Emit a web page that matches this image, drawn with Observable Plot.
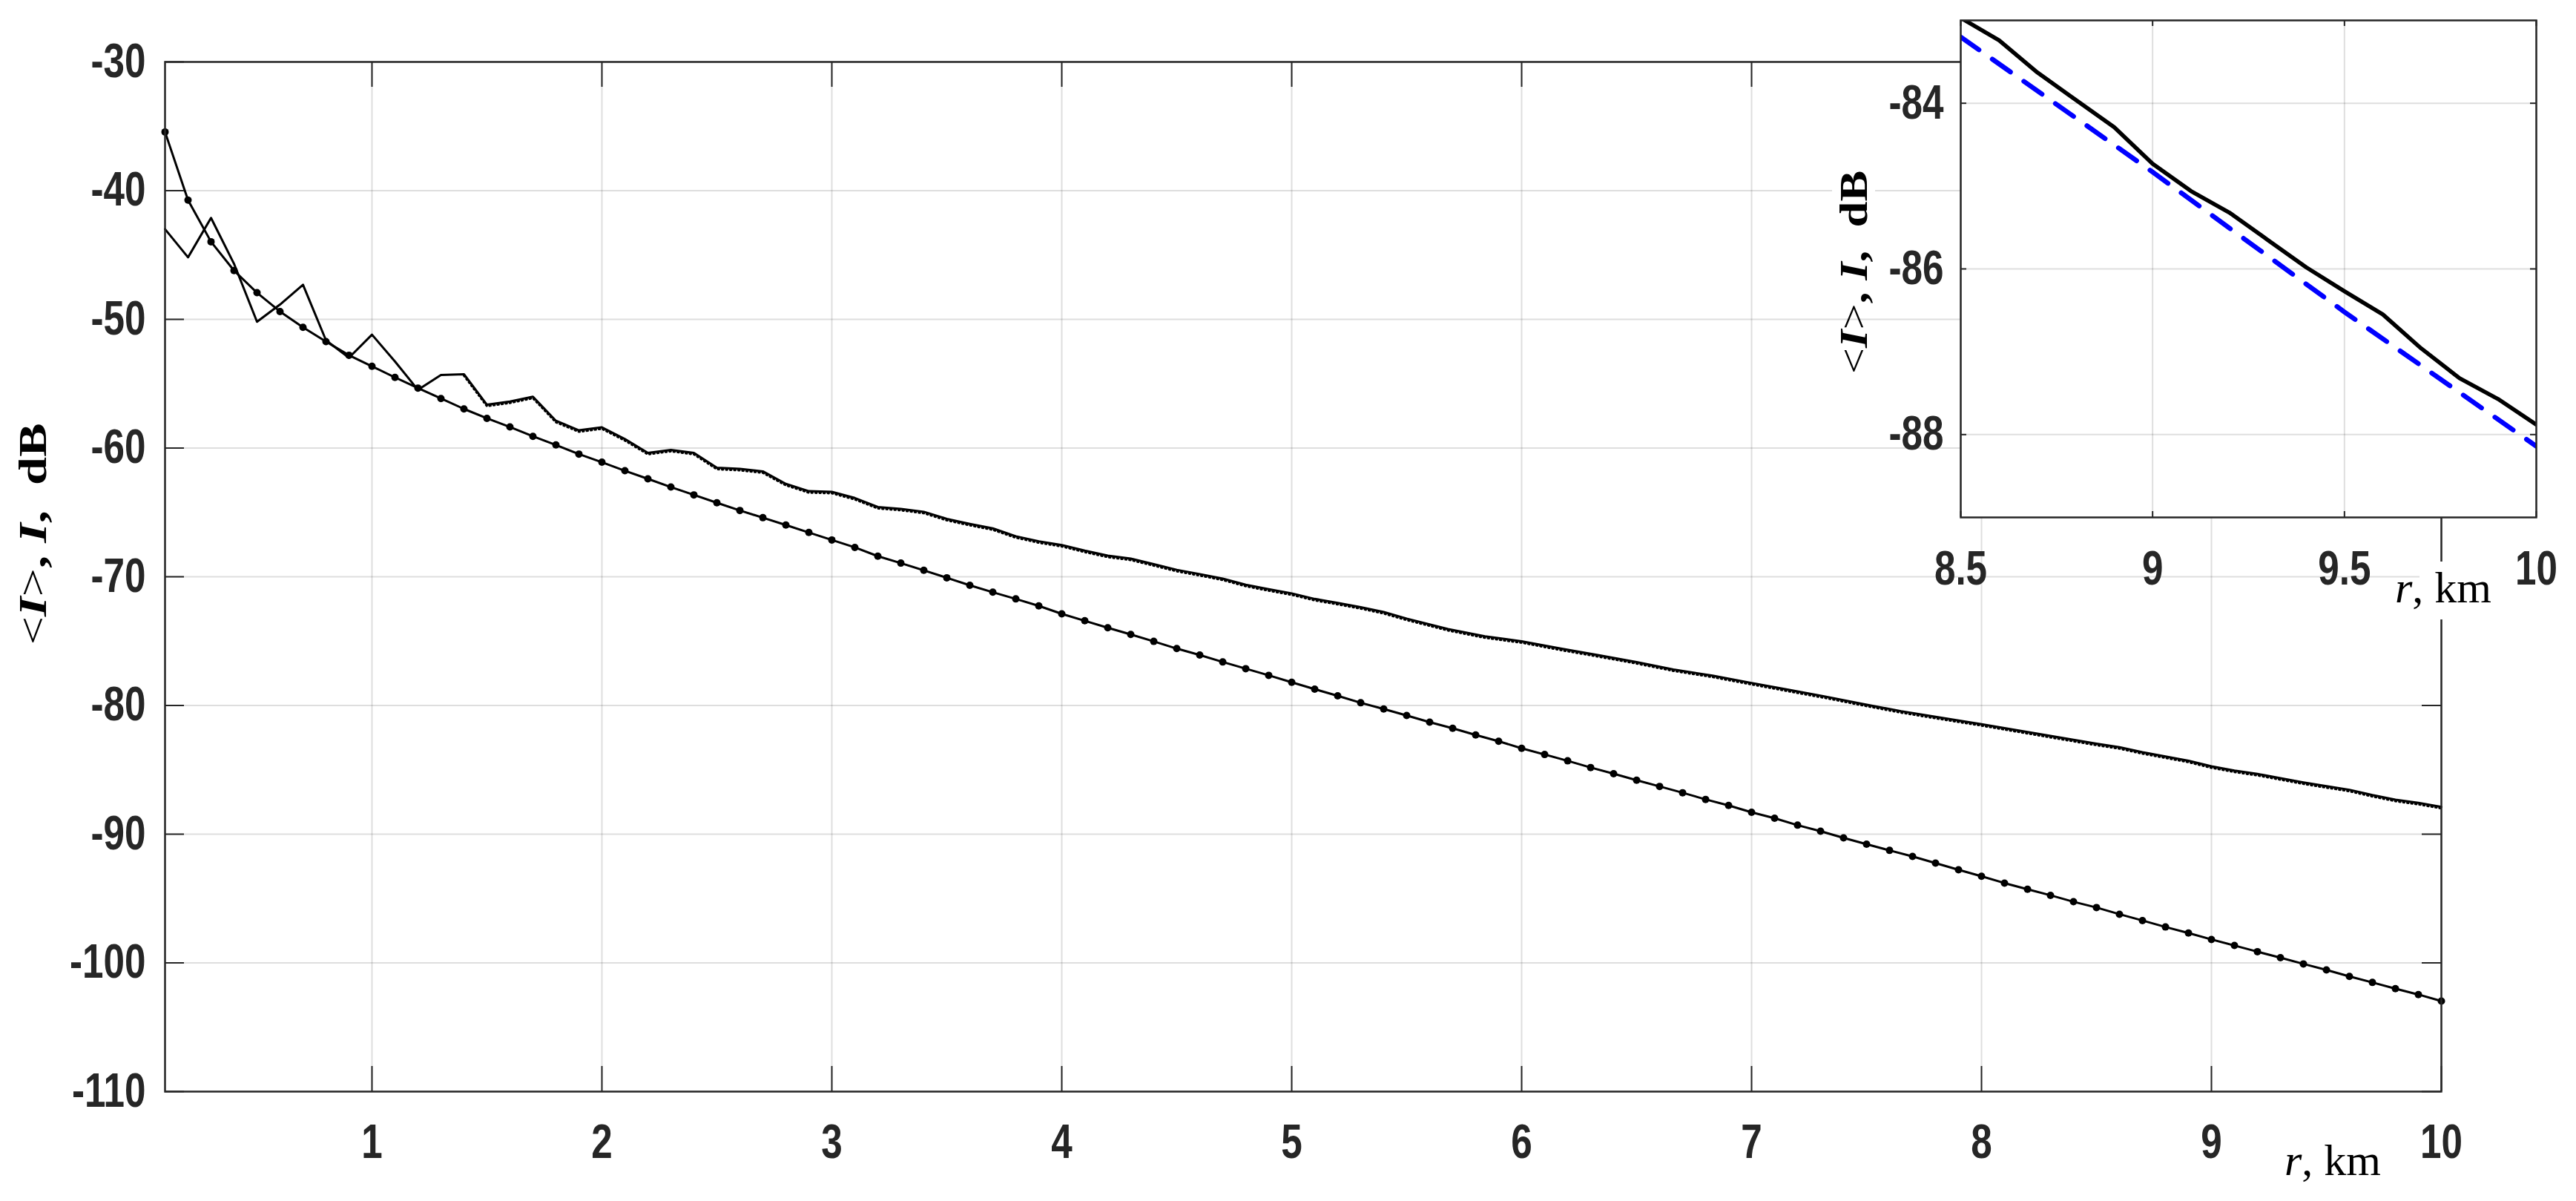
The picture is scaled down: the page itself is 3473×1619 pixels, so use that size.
<!DOCTYPE html>
<html><head><meta charset="utf-8">
<script src="https://cdn.jsdelivr.net/npm/d3@7"></script>
<script src="https://cdn.jsdelivr.net/npm/@observablehq/plot@0.6"></script>
<style>
html,body{margin:0;padding:0;background:#fff;}
#wrap{position:relative;width:3473px;height:1619px;overflow:hidden;background:#fff;}
#wrap svg{position:absolute;max-width:none;}
</style></head><body><div id="wrap"></div>
<script>
// ---- data ----
const lowerR = [0.1,0.2,0.3,0.4,0.5,0.6,0.7,0.8,0.9,1.0,1.1,1.2,1.3,1.4,1.5,1.6,1.7,1.8,1.9,2.0,
  2.1,2.2,2.3,2.4,2.5,2.6,2.7,2.8,2.9,3.0,3.1,3.2,3.3,3.4,3.5,3.6,3.7,3.8,3.9,4.0,
  4.1,4.2,4.3,4.4,4.5,4.6,4.7,4.8,4.9,5.0,5.1,5.2,5.3,5.4,5.5,5.6,5.7,5.8,5.9,6.0,
  6.1,6.2,6.3,6.4,6.5,6.6,6.7,6.8,6.9,7.0,7.1,7.2,7.3,7.4,7.5,7.6,7.7,7.8,7.9,8.0,
  8.1,8.2,8.3,8.4,8.5,8.6,8.7,8.8,8.9,9.0,9.1,9.2,9.3,9.4,9.5,9.6,9.7,9.8,9.9,10.0];
const lowerI = [-35.44,-40.74,-43.97,-46.21,-47.93,-49.39,-50.62,-51.73,-52.79,-53.65,
  -54.51,-55.34,-56.15,-56.96,-57.69,-58.36,-59.09,-59.76,-60.47,-61.10,
  -61.76,-62.39,-63.03,-63.64,-64.25,-64.85,-65.41,-65.98,-66.56,-67.14,
  -67.72,-68.40,-68.94,-69.50,-70.08,-70.66,-71.20,-71.72,-72.26,-72.88,
  -73.42,-73.96,-74.48,-75.02,-75.58,-76.08,-76.62,-77.14,-77.66,-78.20,
  -78.73,-79.25,-79.79,-80.27,-80.78,-81.30,-81.77,-82.29,-82.78,-83.33,
  -83.81,-84.30,-84.82,-85.30,-85.81,-86.29,-86.78,-87.30,-87.77,-88.30,
  -88.76,-89.30,-89.77,-90.29,-90.78,-91.26,-91.73,-92.25,-92.77,-93.27,
  -93.80,-94.28,-94.75,-95.25,-95.70,-96.22,-96.71,-97.21,-97.68,-98.18,
  -98.65,-99.13,-99.60,-100.08,-100.55,-101.05,-101.52,-102.00,-102.46,-102.97];
const upperR = [0.1,0.2,0.3,0.4,0.5,0.6,0.7,0.8,0.9,1.0,1.1,1.2,1.3,1.4,1.5,1.6,1.7,1.8,1.9,2.0,
  2.1,2.2,2.3,2.4,2.5,2.6,2.7,2.8,2.9,3.0,3.1,3.2,3.3,3.4,3.5,3.6,3.7,3.8,3.9,4.0,
  4.1,4.2,4.3,4.4,4.5,4.6,4.7,4.8,4.9,5.0,5.1,5.2,5.3,5.4,5.5,5.68,5.84,6.0,6.17,6.34,
  6.5,6.66,6.83,7.0,7.16,7.32,7.48,7.65,7.81,8.0,8.2,8.4,8.5,8.6,8.7,8.8,8.9,9.0,
  9.1,9.2,9.3,9.4,9.5,9.6,9.7,9.8,9.9,10.0];
const upperI = [-42.99,-45.18,-42.12,-45.68,-50.19,-48.85,-47.31,-51.63,-52.98,-51.19,
  -53.27,-55.48,-54.32,-54.26,-56.63,-56.38,-56.01,-57.88,-58.62,-58.39,
  -59.30,-60.37,-60.14,-60.37,-61.53,-61.62,-61.81,-62.78,-63.35,-63.40,
  -63.88,-64.58,-64.72,-64.95,-65.50,-65.89,-66.24,-66.85,-67.24,-67.53,
  -67.97,-68.36,-68.59,-69.02,-69.46,-69.79,-70.14,-70.62,-70.97,-71.29,
  -71.72,-72.03,-72.36,-72.74,-73.25,-74.06,-74.63,-75.01,-75.58,-76.11,
  -76.63,-77.20,-77.68,-78.25,-78.78,-79.30,-79.87,-80.44,-80.91,-81.45,
  -82.06,-82.67,-82.97,-83.24,-83.63,-83.96,-84.29,-84.73,
  -85.06,-85.32,-85.65,-85.98,-86.27,-86.55,-86.96,-87.32,-87.57,-87.88];
const theoryR = [8.5, 9.0, 9.5, 10.0];
const theoryI = [-83.20, -84.83, -86.52, -88.14];
const mainXTicks = [1,2,3,4,5,6,7,8,9,10];
const mainYTicks = [-110,-100,-90,-80,-70,-60,-50,-40,-30];
const insetXTicks = [8.5, 9, 9.5, 10];
const insetYTicks = [-88, -86, -84];

// ---- tables ----
const lower = lowerR.map((r, i) => ({r, I: lowerI[i]}));
const upper = upperR.map((r, i) => ({r, I: upperI[i]}));
const theory = theoryR.map((r, i) => ({r, I: theoryI[i]}));

const AX = "#262626";
const GRID = {stroke: "#000", strokeOpacity: 0.13, strokeWidth: 2};
const sansFont = "'Liberation Sans', Arial, Helvetica, sans-serif";
const serifFont = "'Liberation Serif', 'Times New Roman', serif";
const tickText = {tickSize: 0, fontSize: 64, fontWeight: "bold", fill: AX, tickFormat: d => String(d), label: null};

const W = 3473, H = 1619;
const mL = 222, mR = 182, mT = 83, mB = 148;
const FW = W - mL - mR, FH = H - mT - mB;

const main = Plot.plot({
  width: W, height: H,
  marginLeft: mL, marginRight: mR, marginTop: mT, marginBottom: mB,
  x: {domain: [0.1, 10], label: null},
  y: {domain: [-110, -30], label: null},
  style: {background: "white", fontFamily: sansFont, overflow: "visible"},
  marks: [
    Plot.gridX(mainXTicks, GRID),
    Plot.gridY(mainYTicks, GRID),
    Plot.line(upper.filter(d => d.r >= 1.4), {x: "r", y: "I", stroke: "#000", strokeWidth: 3, strokeDasharray: "1.5 4", dy: 2}),
    Plot.line(upper, {x: "r", y: "I", stroke: "#000", strokeWidth: 3}),
    Plot.line(lower, {x: "r", y: "I", stroke: "#000", strokeWidth: 3}),
    Plot.dot(lower, {x: "r", y: "I", r: 5, fill: "#000", stroke: null}),
    Plot.tickX(mainXTicks, {x: d => d, insetTop: FH - 34, stroke: AX, strokeWidth: 2}),
    Plot.tickX(mainXTicks, {x: d => d, insetBottom: FH - 34, stroke: AX, strokeWidth: 2}),
    Plot.tickY(mainYTicks, {y: d => d, insetRight: FW - 26, stroke: AX, strokeWidth: 2}),
    Plot.tickY(mainYTicks, {y: d => d, insetLeft: FW - 26, stroke: AX, strokeWidth: 2}),
    Plot.frame({stroke: AX, strokeWidth: 2.5}),
    Plot.axisX(mainXTicks, {...tickText, tickPadding: 44}),
    Plot.axisY(mainYTicks, {...tickText, tickPadding: 26})
  ]
});
main.style.left = "0px"; main.style.top = "0px";

const iL = 2440, iW = 1033, iH = 840;
const imL = 203, imR = 54, imT = 27, imB = 143;
const IFW = iW - imL - imR, IFH = iH - imT - imB;

const inset = Plot.plot({
  width: iW, height: iH,
  marginLeft: imL, marginRight: imR, marginTop: imT, marginBottom: imB,
  x: {domain: [8.5, 10], label: null},
  y: {domain: [-89, -83], label: null},
  style: {background: "transparent", fontFamily: sansFont, overflow: "visible"},
  marks: [
    Plot.frame({fill: "white", stroke: null}),
    Plot.gridX(insetXTicks, GRID),
    Plot.gridY(insetYTicks, GRID),
    Plot.line(theory, {x: "r", y: "I", stroke: "#0000ff", strokeWidth: 6.5, strokeDasharray: "30 22", clip: true}),
    Plot.line(upper.filter(d => d.r >= 8.5), {x: "r", y: "I", stroke: "#000", strokeWidth: 5.5, clip: true}),
    Plot.tickX(insetXTicks, {x: d => d, insetTop: IFH - 8, stroke: AX, strokeWidth: 2}),
    Plot.tickX(insetXTicks, {x: d => d, insetBottom: IFH - 8, stroke: AX, strokeWidth: 2}),
    Plot.tickY(insetYTicks, {y: d => d, insetRight: IFW - 8, stroke: AX, strokeWidth: 2}),
    Plot.tickY(insetYTicks, {y: d => d, insetLeft: IFW - 8, stroke: AX, strokeWidth: 2}),
    Plot.frame({stroke: AX, strokeWidth: 2.5}),
    Plot.axisX(insetXTicks, {...tickText, tickPadding: 45}),
    Plot.axisY(insetYTicks, {...tickText, tickPadding: 23})
  ]
});
inset.style.left = iL + "px"; inset.style.top = "0px";

const wrap = document.getElementById("wrap");
wrap.appendChild(main);
wrap.appendChild(inset);

// condense the bold tick labels horizontally (narrow look of the original)
for (const svg of [main, inset]) {
  d3.select(svg).selectAll('g[aria-label$="tick label"] text').each(function() {
    const t = this.getAttribute("transform") || "";
    this.setAttribute("transform", t + " scale(0.8,1)");
  });
}

// axis titles with mixed styles
function yTitle(svg, x, y, sx, sy) {
  const t = d3.select(svg).append("text")
    .attr("transform", `translate(${x},${y}) rotate(-90) scale(${sx},${sy})`)
    .attr("text-anchor", "middle")
    .attr("font-family", serifFont)
    .attr("font-size", 56)
    .attr("fill", "#000");
  t.append("tspan").text("<");
  t.append("tspan").attr("font-style", "italic").attr("font-weight", "bold").text("I");
  t.append("tspan").text(">");
  t.append("tspan").attr("font-weight", "bold").text(", ");
  t.append("tspan").attr("font-style", "italic").attr("font-weight", "bold").text("I");
  t.append("tspan").attr("font-weight", "bold").text(",  ");
  t.append("tspan").attr("font-weight", "bold").text("dB");
  return t;
}
function xTitle(svg, x, y) {
  const t = d3.select(svg).append("text")
    .attr("x", x).attr("y", y)
    .attr("text-anchor", "start")
    .attr("font-family", serifFont)
    .attr("font-size", 60)
    .attr("fill", "#000");
  t.append("tspan").attr("font-style", "italic").text("r");
  t.append("tspan").text(", km");
}

yTitle(main, 62, 720, 1.22, 0.94);
xTitle(main, 3080, 1584);

// inset: white patches behind pasted label parts
d3.select(inset).append("rect").attr("x", 30).attr("y", 227).attr("width", 58).attr("height", 71).attr("fill", "white");
d3.select(inset).append("rect").attr("x", 822).attr("y", 757).attr("width", 90).attr("height", 78).attr("fill", "white");
yTitle(inset, 2517 - iL, 367, 1.12, 0.94);
xTitle(inset, 3229 - iL, 812);
</script>
</body></html>
